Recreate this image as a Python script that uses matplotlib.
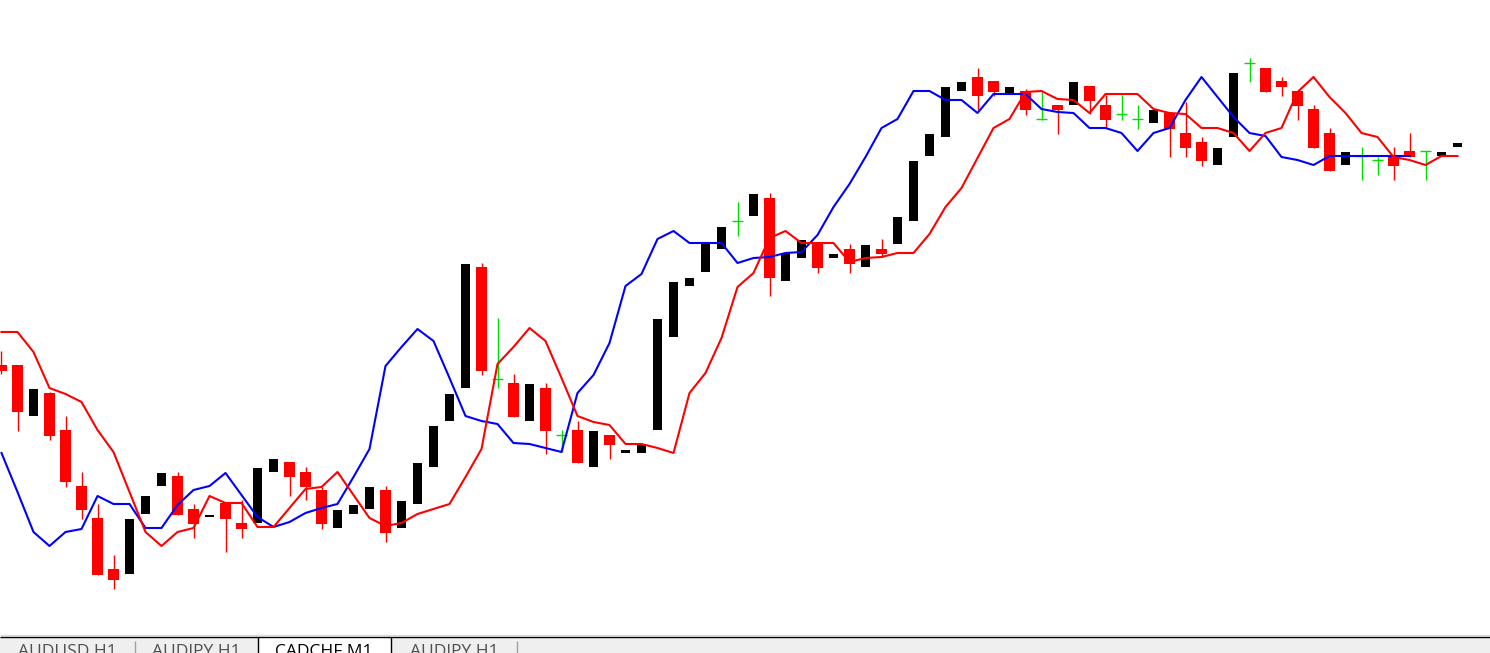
# MT4-style candlestick chart (CADCHF,M1) with two indicator lines and the tab strip underneath
import numpy as np
import matplotlib.pyplot as plt

# The price scale is not shown in the screenshot, so levels are given in screen-row units
# (bigger number = lower price); the y axis is inverted below.
opens = [365, 365, 416, 393, 430, 486, 518, 569, 574, 514, 486, 476, 509, 517, 503, 523,
         523, 472, 462, 472, 490, 528, 514, 509, 490, 528, 504, 467, 421, 388, 267, 379,
         383, 421, 388, 435, 430, 467, 435, 453, 453, 430, 337, 286, 272, 249, 221, 216,
         198, 281, 258, 243, 258, 249, 267, 249, 244, 221, 156, 137, 91, 77, 81, 94,
         91, 119, 105, 105, 86, 105, 114, 119, 123, 113, 133, 142, 165, 137, 63, 68,
         81, 91, 109, 133, 165, 156, 160, 156, 151, 151, 156, 147]
highs = [351, 365, 389, 392, 416, 472, 504, 555, 519, 496, 473, 472, 504, 515, 503, 500,
         468, 459, 462, 467, 487, 510, 505, 487, 486, 501, 463, 426, 394, 264, 263, 318,
         374, 384, 383, 430, 421, 431, 435, 450, 445, 319, 282, 278, 243, 227, 202, 194,
         193, 253, 240, 243, 254, 244, 245, 239, 217, 161, 134, 87, 82, 68, 81, 87,
         89, 92, 105, 82, 86, 95, 95, 105, 110, 113, 102, 137, 148, 73, 58, 68,
         77, 91, 105, 128, 152, 147, 157, 147, 133, 151, 152, 143]
lows = [374, 431, 416, 440, 487, 519, 575, 589, 574, 514, 486, 515, 538, 517, 552, 538,
        523, 472, 496, 500, 529, 528, 514, 509, 542, 528, 504, 467, 421, 388, 375, 388,
        417, 421, 454, 452, 463, 467, 459, 453, 453, 430, 337, 286, 272, 249, 236, 216,
        296, 281, 258, 273, 258, 273, 267, 257, 244, 221, 156, 137, 91, 110, 96, 94,
        115, 120, 134, 105, 114, 127, 120, 129, 123, 157, 157, 166, 165, 137, 82, 92,
        96, 120, 148, 171, 165, 180, 175, 180, 157, 180, 156, 147]
closes = [371, 412, 389, 436, 482, 510, 575, 580, 519, 496, 473, 515, 524, 515, 519, 529,
          468, 459, 477, 487, 524, 510, 505, 487, 533, 501, 463, 426, 394, 264, 371, 379,
          417, 384, 431, 435, 463, 431, 445, 450, 445, 319, 282, 278, 243, 227, 221, 194,
          278, 253, 240, 268, 254, 264, 245, 254, 217, 161, 134, 87, 82, 96, 92, 87,
          110, 119, 110, 82, 101, 120, 114, 119, 110, 129, 148, 161, 148, 73, 63, 92,
          87, 106, 148, 171, 152, 156, 160, 166, 157, 151, 152, 143]

red_line = [332, 332, 352, 388, 394, 402, 430, 452, 492, 532, 546, 532, 528, 496, 503, 503,
            527, 527, 508, 489, 487, 472, 495, 518, 526, 523, 514, 509, 504, 477, 449, 364,
            347, 328, 341, 378, 416, 422, 425, 444, 444, 448, 453, 393, 373, 338, 287, 273,
            238, 231, 243, 243, 243, 262, 258, 257, 253, 253, 234, 207, 188, 158, 128, 119,
            92, 91, 99, 100, 113, 94, 94, 94, 109, 113, 114, 128, 128, 133, 151, 133,
            128, 92, 77, 97, 113, 133, 137, 157, 160, 165, 156, 156]
blue_line = [453, 492, 532, 546, 532, 529, 496, 504, 504, 528, 528, 505, 490, 486, 473, 495,
             517, 527, 522, 513, 508, 504, 477, 449, 366, 347, 329, 341, 378, 416, 421, 424,
             443, 444, 448, 452, 393, 375, 343, 286, 274, 239, 231, 243, 243, 243, 263, 258,
             257, 253, 252, 235, 207, 184, 157, 128, 119, 91, 91, 100, 100, 113, 94, 94,
             94, 109, 112, 113, 128, 128, 133, 151, 133, 128, 100, 77, 97, 117, 133, 136,
             157, 160, 165, 156, 156, 156, 156, 156, 156]

tabs = ['AUDUSD,H1', 'AUDJPY,H1', 'CADCHF,M1', 'AUDJPY,H1']
active_tab = 2

W, H = 1490, 653
strip = 18  # height of the tab strip in pixels

fig = plt.figure(figsize=(W / 100, H / 100), dpi=100)
ax = fig.add_axes([0, strip / H, 1, 1 - strip / H])

o = np.array(opens); hi = np.array(highs); lo = np.array(lows); c = np.array(closes)
x = np.arange(len(o))
bull = c < o
bear = c > o
doji = c == o

# bull candles: black body, wick drawn in white so it does not show
ax.bar(x[bull], o[bull] - c[bull], bottom=c[bull], width=0.56, color='black', zorder=2)
# bear candles: red body and red wick
ax.vlines(x[bear], hi[bear], lo[bear], color='red', lw=1, zorder=2)
ax.bar(x[bear], c[bear] - o[bear], bottom=o[bear], width=0.69, color='red', zorder=2)
# doji: green cross
ax.vlines(x[doji], hi[doji], lo[doji], color='#00dd00', lw=1, zorder=2)
ax.hlines(o[doji], x[doji] - 0.33, x[doji] + 0.33, color='#00dd00', lw=1, zorder=2)

ax.plot(np.arange(len(blue_line)), blue_line, color='blue', lw=1.5, zorder=3)
ax.plot(np.arange(len(red_line)), red_line, color='red', lw=1.5, zorder=3)

ax.set_xlim(-1.5 / 16, (W - 1.5) / 16)
ax.set_ylim(H - strip, 0)
ax.axis('off')

# tab strip
tb = fig.add_axes([0, 0, 1, 23 / H], zorder=5)
tb.set_xlim(0, W)
tb.set_ylim(H, H - 23)
tb.axis('off')
tb.patch.set_alpha(0)
tb.fill_between([0, W], 636.5, H, color='#efefef', lw=0)
tb.hlines(634.5, 0, W, color='#dcdcdc', lw=1)
tb.hlines(636.5, 0, W, color='black', lw=1)

centers = [67, 196, 324, 454]
edges = [0, 135, 258, 391, 517]
tb.fill_between([edges[2], edges[3]], 637, H, color='white', lw=0)
tb.vlines([edges[2], edges[3]], 636.5, H, color='black', lw=1)
tb.vlines([edges[1], edges[4]], 641, H, color='#a0a0a0', lw=1)
for i, name in enumerate(tabs):
    tb.text(centers[i], 656, name, ha='center', va='baseline', fontsize=12.5,
            family='Open Sans', color='black' if i == active_tab else '#505050')

fig.savefig('out.png', dpi=100)
